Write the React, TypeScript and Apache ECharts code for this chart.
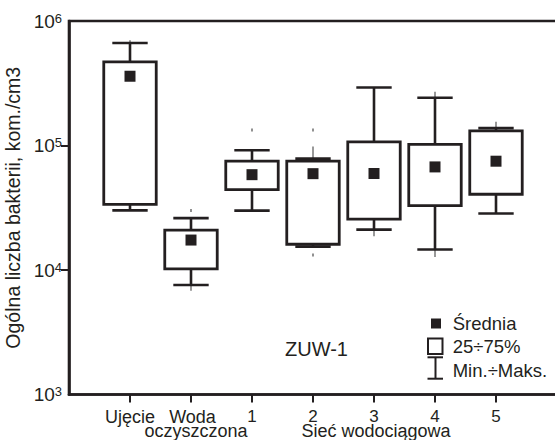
import React, { useEffect, useRef } from 'react';
import * as echarts from 'echarts';

const categories = ['Ujęcie', 'Woda oczyszczona', '1', '2', '3', '4', '5'];
const groupLabel = 'Sieć wodociągowa';
const groupCenterIndex = 4;
const minValues = [30100, 7570, 30000, 15400, 21100, 14600, 28400];
const q1Values = [33600, 10200, 44200, 16100, 25600, 32900, 40600];
const q3Values = [469000, 20900, 74800, 74800, 107000, 102000, 131000];
const maxValues = [665000, 26100, 91600, 78400, 292000, 242000, 138000];
const meanValues = [360000, 17400, 58300, 59400, 59600, 67300, 74800];
const stubs = [
  [0, 665000, 700000],
  [1, 7570, 6800],
  [3, 78400, 98000],
  [4, 21100, 18700],
  [5, 242000, 270000],
  [5, 14600, 12700],
  [6, 138000, 155000],
];
const strayPoints = [
  [1, 30100],
  [2, 133000],
  [3, 133000],
  [3, 13200],
];
const yLabelValues = [1000, 10000, 100000, 1000000];
const yTickValues = [10000, 100000];
const yAxisName = 'Ogólna liczba bakterii, kom./cm3';
const legendLabels = ['Średnia', '25÷75%', 'Min.÷Maks.'];
const panelLabel = 'ZUW-1';

const INK = '#231f20';
const FONT = '"Liberation Sans", Arial, Helvetica, sans-serif';

// category i sits at x = i + 1 on the value axis (0 … 8)
const pos = (i: number) => i + 1;

export default function App() {
  const ref = useRef<HTMLDivElement>(null);
  useEffect(() => {
    const chart = echarts.init(ref.current!, null, { renderer: 'svg' });
    const idx = categories.map((_, i) => i);
    const xs = idx.map(pos);
    // a blank label at the axis start so that no real label is treated as the min label
    const xLabelValues = [0, ...xs];

    const xFormatter = (v: number) => {
      const i = Math.round(v) - 1;
      if (i < 0 || i >= categories.length) return ' ';
      let s = '';
      if (i === 1) {
        const [a, b] = categories[1].split(' ');
        s = `{w|${a}}\n{o|${b}}`;
      } else if (/^\d+$/.test(categories[i] || '')) {
        s = `{n|${categories[i]}}`;
      } else {
        s = categories[i] || '';
      }
      if (i === groupCenterIndex) s += `\n{g|${groupLabel}}`;
      return s;
    };

    const option: any = {
      animation: false,
      backgroundColor: '#ffffff',
      textStyle: { fontFamily: FONT },
      grid: {
        left: 69,
        right: -2,
        top: 21,
        bottom: 45.5,
        outerBoundsMode: 'none',
        show: true,
        borderColor: INK,
        borderWidth: 2.6,
        backgroundColor: 'transparent',
      },
      xAxis: {
        type: 'value',
        min: 0,
        max: 8,
        interval: 1,
        axisLine: { show: true, onZero: false, lineStyle: { color: INK, width: 2.6 } },
        axisTick: { show: true, customValues: xs, length: 8, lineStyle: { color: INK, width: 2 } },
        splitLine: { show: false },
        axisLabel: {
          customValues: xLabelValues,
          hideOverlap: false,
          showMaxLabel: true,
          margin: 15,
          color: INK,
          fontSize: 18,
          lineHeight: 14,
          fontFamily: FONT,
          formatter: xFormatter,
          rich: {
            w: { fontSize: 18, lineHeight: 14, color: INK, fontFamily: FONT, padding: [0, 0, 0, 3] },
            o: { fontSize: 18, lineHeight: 14, color: INK, fontFamily: FONT, padding: [0, 0, 0, 10] },
            n: { fontSize: 17, lineHeight: 14, color: INK, fontFamily: FONT },
            g: { fontSize: 18, lineHeight: 14, color: INK, fontFamily: FONT, padding: [0, 0, 0, 4] },
          },
        },
      },
      yAxis: {
        type: 'log',
        logBase: 10,
        min: 1000,
        max: 1000000,
        axisLine: { show: true, onZero: false, lineStyle: { color: INK, width: 2.6 } },
        axisTick: { show: true, customValues: yTickValues, length: 8, lineStyle: { color: INK, width: 2 } },
        minorTick: { show: false },
        splitLine: { show: false },
        axisLabel: {
          customValues: yLabelValues,
          showMinLabel: true,
          showMaxLabel: true,
          margin: 7,
          formatter: (v: number) => `{b|10}{e|${Math.round(Math.log10(v))}}`,
          rich: {
            b: { fontSize: 19, lineHeight: 19, color: INK, fontFamily: FONT },
            e: { fontSize: 13, lineHeight: 13, verticalAlign: 'top', color: INK, fontFamily: FONT },
          },
        },
        name: yAxisName,
        nameLocation: 'middle',
        nameGap: 41,
        nameTextStyle: { fontSize: 19.5, color: INK, fontFamily: FONT },
      },
      series: [
        {
          type: 'custom',
          name: legendLabels[2],
          z: 2,
          encode: { x: 0, y: [1, 2, 3, 4] },
          data: idx.map((i) => [pos(i), minValues[i], q1Values[i], q3Values[i], maxValues[i]]),
          renderItem: (params: any, api: any) => {
            const x = api.value(0);
            const lo = api.value(1), q1 = api.value(2), q3 = api.value(3), hi = api.value(4);
            const pHi = api.coord([x, hi]);
            const pQ3 = api.coord([x, q3]);
            const pQ1 = api.coord([x, q1]);
            const pLo = api.coord([x, lo]);
            const half = api.coord([x + 0.29, hi])[0] - pHi[0];
            const style = { stroke: INK, lineWidth: 2.6, fill: null };
            return {
              type: 'group',
              children: [
                { type: 'line', shape: { x1: pHi[0], y1: pHi[1], x2: pQ3[0], y2: pQ3[1] }, style },
                { type: 'line', shape: { x1: pQ1[0], y1: pQ1[1], x2: pLo[0], y2: pLo[1] }, style },
                { type: 'line', shape: { x1: pHi[0] - half, y1: pHi[1], x2: pHi[0] + half, y2: pHi[1] }, style },
                { type: 'line', shape: { x1: pLo[0] - half, y1: pLo[1], x2: pLo[0] + half, y2: pLo[1] }, style },
              ],
            };
          },
        },
        {
          type: 'custom',
          name: 'stubs',
          z: 1,
          encode: { x: 0, y: [1, 2] },
          data: stubs.map(([i, a, b]) => [pos(i), a, b]),
          renderItem: (params: any, api: any) => {
            const x = api.value(0);
            const a = api.coord([x, api.value(1)]);
            const b = api.coord([x, api.value(2)]);
            return {
              type: 'line',
              shape: { x1: a[0], y1: a[1], x2: b[0], y2: b[1] },
              style: { stroke: '#555', lineWidth: 1.2 },
            };
          },
        },
        {
          type: 'custom',
          name: legendLabels[1],
          z: 3,
          encode: { x: 0, y: [1, 2] },
          data: idx.map((i) => [pos(i), q1Values[i], q3Values[i]]),
          renderItem: (params: any, api: any) => {
            const x = api.value(0);
            const pTop = api.coord([x, api.value(2)]);
            const pBot = api.coord([x, api.value(1)]);
            const half = api.coord([x + 0.43, api.value(2)])[0] - pTop[0];
            return {
              type: 'rect',
              shape: { x: pTop[0] - half, y: pTop[1], width: half * 2, height: pBot[1] - pTop[1] },
              style: { fill: '#ffffff', stroke: INK, lineWidth: 2.8 },
            };
          },
        },
        {
          type: 'scatter',
          name: 'points',
          z: 4,
          symbol: 'rect',
          symbolSize: [1.3, 3],
          itemStyle: { color: '#555', opacity: 1 },
          data: strayPoints.map(([i, v]) => [pos(i), v]),
        },
        {
          type: 'scatter',
          name: legendLabels[0],
          z: 5,
          symbol: 'rect',
          symbolSize: 11,
          itemStyle: { color: INK, opacity: 1 },
          data: idx.map((i) => [pos(i), meanValues[i]]),
        },
      ],
      graphic: [
        { type: 'rect', shape: { x: 431, y: 318.5, width: 10, height: 10 }, style: { fill: INK } },
        { type: 'text', x: 452.7, y: 323, style: { text: legendLabels[0], fill: INK, font: `18.5px ${FONT}`, verticalAlign: 'middle' } },
        { type: 'rect', shape: { x: 428, y: 338.5, width: 14.5, height: 15.5 }, style: { fill: 'none', stroke: INK, lineWidth: 2 } },
        { type: 'text', x: 452.7, y: 346.7, style: { text: legendLabels[1], fill: INK, font: `18.5px ${FONT}`, verticalAlign: 'middle' } },
        { type: 'line', shape: { x1: 435.5, y1: 357.3, x2: 435.5, y2: 378.7 }, style: { stroke: INK, lineWidth: 2 } },
        { type: 'line', shape: { x1: 427.5, y1: 357.3, x2: 443, y2: 357.3 }, style: { stroke: INK, lineWidth: 2 } },
        { type: 'line', shape: { x1: 427.5, y1: 378.7, x2: 443, y2: 378.7 }, style: { stroke: INK, lineWidth: 2 } },
        { type: 'text', x: 452.7, y: 370.3, style: { text: legendLabels[2], fill: INK, font: `18.5px ${FONT}`, verticalAlign: 'middle' } },
        { type: 'text', x: 285, y: 348.5, style: { text: panelLabel, fill: INK, font: `20px ${FONT}`, verticalAlign: 'middle' } },
      ],
    };
    chart.setOption(option);
    return () => chart.dispose();
  }, []);
  return (
    <div
      ref={ref}
      style={{ position: 'fixed', left: 0, top: 0, width: 555, height: 440, background: '#fff' }}
    />
  );
}
